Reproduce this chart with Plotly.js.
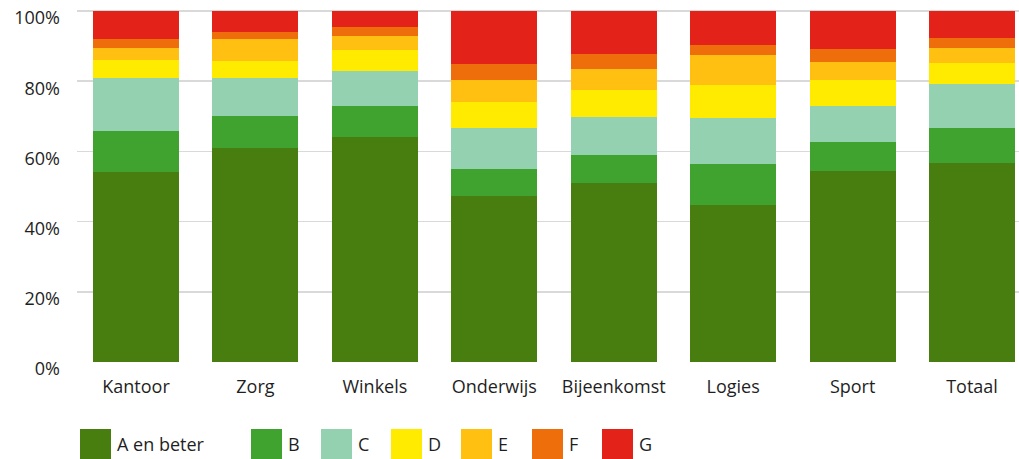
<!DOCTYPE html>
<html>
<head>
<meta charset="utf-8">
<script src="https://cdn.plot.ly/plotly-3.0.1.min.js"></script>
<style>
html,body{margin:0;padding:0;background:#fff;}
#chart{width:1019px;height:459px;}
</style>
</head>
<body>
<div id="chart"></div>
<script>
var categories = ['Kantoor','Zorg','Winkels','Onderwijs','Bijeenkomst','Logies','Sport','Totaal'];
var seriesNames = ['A en beter','B','C','D','E','F','G'];
var seriesColors = ['#477e0f','#40a22f','#93d1b0','#ffeb00','#ffc012','#ed6e0a','#e3231a'];
var valA = [54.0, 61.1, 64.2, 47.4, 51.1, 44.6, 54.5, 56.8];
var valB = [11.9,  9.1,  8.8,  7.7,  8.0, 11.9,  8.3, 10.0];
var valC = [15.1, 10.8, 10.0, 11.7, 10.8, 13.1, 10.2, 12.5];
var valD = [ 5.1,  4.9,  5.9,  7.3,  7.7,  9.4,  7.4,  5.9];
var valE = [ 3.4,  6.0,  4.0,  6.3,  5.9,  8.5,  5.1,  4.3];
var valF = [ 2.5,  2.0,  2.6,  4.5,  4.3,  2.8,  3.7,  2.8];
var valG = [ 8.0,  6.1,  4.5, 15.1, 12.2,  9.7, 10.8,  7.7];
var yTickVals = [0,20,40,60,80,100];
var yTickText = ['0%','20%','40%','60%','80%','100%'];

var allVals = [valA,valB,valC,valD,valE,valF,valG];
var FONT = '"Open Sans", "Noto Sans", sans-serif';
var TXT = '#1f1f1f';

var traces = allVals.map(function(v,i){
  return {
    type:'bar', x:categories, y:v, name:seriesNames[i],
    marker:{color:seriesColors[i], line:{width:0}},
    showlegend:false, hoverinfo:'x+y+name'
  };
});

// plot area pixel geometry
var W=1019, H=459, L=77, R=0, T=10, B=97;
var pw=W-L-R, ph=H-T-B;
function px2x(p){return (p-L)/pw;}
function py2y(p){return (H-B-p)/ph;}

// custom legend with large square swatches
var legendX = [80,251,321,391,461,532,602];
var shapes=[], annotations=[];
seriesNames.forEach(function(n,i){
  shapes.push({type:'rect', xref:'paper', yref:'paper',
    x0:px2x(legendX[i]), x1:px2x(legendX[i]+31),
    y0:py2y(459), y1:py2y(429),
    fillcolor:seriesColors[i], line:{width:0}});
  annotations.push({xref:'paper', yref:'paper', x:px2x(legendX[i]+35), y:py2y(444),
    xanchor:'left', yanchor:'middle', text:n, showarrow:false,
    font:{family:FONT, size:18, color:TXT}});
});

var layout = {
  width:W, height:H,
  margin:{l:L, r:R, t:T, b:B, pad:0},
  paper_bgcolor:'#fff', plot_bgcolor:'#fff',
  barmode:'stack', bargap:0.28,
  font:{family:FONT, size:18, color:TXT},
  xaxis:{range:[-0.494,7.393], showgrid:false, zeroline:false, showline:false,
    ticks:'', tickfont:{family:FONT,size:18,color:TXT}, ticklabelstandoff:12, fixedrange:true},
  yaxis:{range:[0,100.3], tickmode:'array', tickvals:yTickVals, ticktext:yTickText, showgrid:true,
    gridcolor:'#d9d9d9', gridwidth:1.5, zeroline:false, showline:false, ticklabeloverflow:'allow',
    ticklabelshift:7,
    ticks:'', ticklabelstandoff:16, tickfont:{family:FONT,size:18,color:TXT}, fixedrange:true},
  shapes:shapes, annotations:annotations,
  showlegend:false
};

Plotly.newPlot('chart', traces, layout, {displayModeBar:false, staticPlot:true});
</script>
</body>
</html>
